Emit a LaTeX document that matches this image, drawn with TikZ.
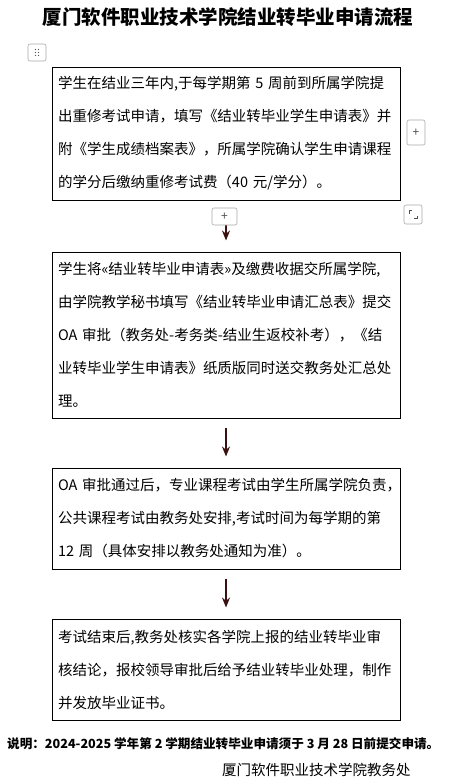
\documentclass[tikz,border=0pt]{standalone}
\usepackage{fontspec}
\setmainfont{Noto Sans CJK SC}
\usepackage{xcolor}
\usepackage{tikz}
\usetikzlibrary{arrows.meta, positioning}
\definecolor{arrowbrown}{HTML}{3A1010}
\definecolor{handlegray}{HTML}{A8A8A8}
\definecolor{handleink}{HTML}{505050}

\begin{document}
\begin{tikzpicture}[x=1pt, y=-1pt, >=Stealth,
    flowbox/.style={draw, line width=1pt, text width=336pt, inner xsep=6pt, inner ysep=0pt,
        align=left, font=\fontsize{14.5}{33}\selectfont},
    flowarrow/.style={line width=1.4pt, arrowbrown, shorten <=9pt, shorten >=11pt,
        -{Stealth[length=10pt, width=8pt]}},
    handle/.style={draw=handlegray, rounded corners=2pt, fill=white, line width=0.6pt,
        inner sep=0pt, text=handleink, font=\fontsize{12}{12}\selectfont}]
    \useasboundingbox (0,0) rectangle (464,782);

    % ── TITLE ─────────────────────────────────────────────────────────
    \node[font=\fontsize{19.5}{24}\selectfont\bfseries] (title) at (228,17) {厦门软件职业技术学院结业转毕业申请流程};

    % ── STEPS ─────────────────────────────────────────────────────────
    \node[flowbox, minimum height=133pt] (apply) at (226,133.5) {%
        \mbox{学生在结业三年内,于每学期第~5~周前到所属学院提}\\
        \mbox{出重修考试申请，填写《结业转毕业学生申请表》并}\\
        \mbox{附《学生成绩档案表》，所属学院确认学生申请课程}\\
        \mbox{的学分后缴纳重修考试费（40~元/学分）。}};
    \node[flowbox, minimum height=166pt] (submit) at (226,335) {%
        \mbox{学生将«结业转毕业申请表»及缴费收据交所属学院,}\\
        \mbox{由学院教学秘书填写《结业转毕业申请汇总表》提交}\\
        \mbox{OA~审批（教务处-考务类-结业生返校补考），《结}\\
        \mbox{业转毕业学生申请表》纸质版同时送交教务处汇总处}\\
        \mbox{理。}};
    \node[flowbox, minimum height=101pt] (exam) at (226,518.5) {%
        \mbox{OA~审批通过后，专业课程考试由学生所属学院负责，}\\
        \mbox{公共课程考试由教务处安排,考试时间为每学期的第}\\
        \mbox{12~周（具体安排以教务处通知为准）。}};
    \node[flowbox, minimum height=101pt] (certify) at (226,669.5) {%
        \mbox{考试结束后,教务处核实各学院上报的结业转毕业审}\\
        \mbox{核结论，报校领导审批后给予结业转毕业处理，制作}\\
        \mbox{并发放毕业证书。}};

    \draw[flowarrow] (apply) -- (submit);
    \draw[flowarrow] (submit) -- (exam);
    \draw[flowarrow] (exam) -- (certify);

    % ── EDITOR HANDLES ────────────────────────────────────────────────
    \node[handle, minimum width=18pt, minimum height=17pt] (movehandle) at (37,52.5) {};
    \foreach \dx in {-1.5,1.5}{
        \foreach \dy in {-3,0,3}{
            \fill[handleink] ([shift={(\dx,\dy)}]movehandle.center) circle (0.7pt);
        }
    }
    \node[handle, minimum width=18pt, minimum height=25pt] (addright) at (416,132.5) {+};
    \node[handle, minimum width=25pt, minimum height=17pt] (addbelow) at (224.5,216.5) {+};
    \node[handle, minimum width=18pt, minimum height=19pt] (resizehandle) at (413,214.5) {};
    \draw[handleink, line width=0.8pt]
        ([shift={(-4,-1)}]resizehandle.center) -- ([shift={(-4,-4)}]resizehandle.center)
        -- ([shift={(-1,-4)}]resizehandle.center);
    \draw[handleink, line width=0.8pt]
        ([shift={(4,1)}]resizehandle.center) -- ([shift={(4,4)}]resizehandle.center)
        -- ([shift={(1,4)}]resizehandle.center);

    % ── FOOTER ────────────────────────────────────────────────────────
    \node[anchor=west, font=\fontsize{12.6}{16}\selectfont\bfseries, inner sep=0pt] (note) at (7,744)
        {说明：2024-2025 学年第 2 学期结业转毕业申请须于 3 月 28 日前提交申请。};
    \node[anchor=west, font=\fontsize{14.5}{17}\selectfont, inner sep=0pt] (office) at (222,770)
        {厦门软件职业技术学院教务处};
\end{tikzpicture}
\end{document}
